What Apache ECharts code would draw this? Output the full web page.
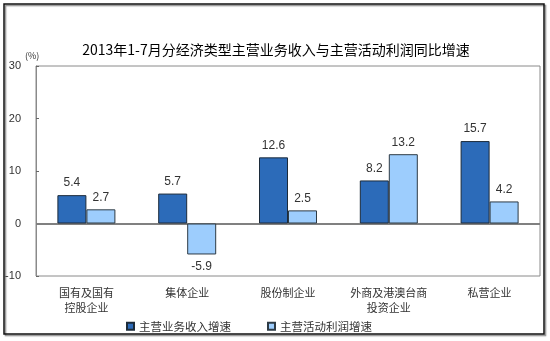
<!DOCTYPE html>
<html>
<head>
<meta charset="utf-8">
<script src="https://cdn.jsdelivr.net/npm/echarts@6/dist/echarts.min.js"></script>
<style>
  html, body { margin: 0; padding: 0; background: #fff; }
  #chart { width: 550px; height: 341px; }
</style>
</head>
<body>
<div id="chart"></div>
<script>
// Chart data
const categories = ['国有及国有\n控股企业', '集体企业', '股份制企业', '外商及港澳台商\n投资企业', '私营企业'];
const revenueGrowth = [5.4, 5.7, 12.6, 8.2, 15.7];   // 主营业务收入增速
const profitGrowth = [2.7, -5.9, 2.5, 13.2, 4.2];    // 主营活动利润增速
const seriesNames = ['主营业务收入增速', '主营活动利润增速'];
const yTicks = { min: -10, max: 30, interval: 10 };

const FONT = '"Noto Sans CJK SC", "Noto Sans", sans-serif';
const NUM_FONT = 'Arial, "Liberation Sans", sans-serif';

const chart = echarts.init(document.getElementById('chart'), null, { renderer: 'canvas' });

const baseLabel = {
  show: true,
  fontSize: 12,
  color: '#333',
  fontFamily: NUM_FONT,
  distance: 6,
  formatter: p => p.value.toFixed(1)
};

// value labels go above positive bars and below negative ones
const toItems = values => values.map(v => ({
  value: v,
  label: { position: v < 0 ? 'bottom' : 'top' }
}));

chart.setOption({
  animation: false,
  backgroundColor: '#fff',
  textStyle: { fontFamily: FONT },
  title: {
    text: '2013年1-7月分经济类型主营业务收入与主营活动利润同比增速',
    left: 271,
    textAlign: 'center',
    top: 38,
    textStyle: { fontSize: 14, fontWeight: 'normal', color: '#000', fontFamily: FONT }
  },
  graphic: [
    {
      type: 'rect',
      shape: { x: 4, y: 4, width: 540, height: 330 },
      style: { fill: 'none', stroke: '#111', lineWidth: 1.5, shadowColor: 'rgba(0,0,0,0.45)', shadowOffsetX: 1.5, shadowOffsetY: 1.5, shadowBlur: 1 },
      z: 100
    },
    {
      type: 'text',
      left: 25,
      top: 51,
      style: { text: '(%)', fontSize: 9, fill: '#333', fontFamily: FONT }
    }
  ],
  legend: {
    data: seriesNames,
    bottom: 4,
    left: 121,
    itemWidth: 7,
    itemHeight: 7,
    itemGap: 36,
    icon: 'rect',
    textStyle: { fontSize: 11.5, color: '#333', fontFamily: FONT }
  },
  grid: {
    left: 36,
    right: 10,
    top: 66,
    bottom: 65,
    containLabel: false,
    outerBoundsMode: 'none',
    show: true,
    borderColor: '#8a8a8a',
    borderWidth: 1
  },
  xAxis: {
    type: 'category',
    data: categories,
    position: 'bottom',
    axisLine: { show: false, onZero: false },
    axisTick: { show: false },
    axisLabel: {
      interval: 0,
      fontSize: 11,
      color: '#333',
      lineHeight: 15,
      margin: 9,
      fontFamily: FONT
    }
  },
  yAxis: {
    type: 'value',
    min: yTicks.min,
    max: yTicks.max,
    interval: yTicks.interval,
    axisLine: { show: true, lineStyle: { color: '#8a8a8a' } },
    axisTick: { show: true, inside: true, length: 3, lineStyle: { color: '#666' } },
    splitLine: { show: false },
    axisLabel: { fontSize: 11, color: '#333', margin: 15, fontFamily: NUM_FONT }
  },
  series: [
    {
      name: seriesNames[0],
      type: 'bar',
      data: toItems(revenueGrowth),
      barWidth: 29,
      barGap: '0%',
      itemStyle: { color: '#2c6bb9', borderColor: '#1c2b3a', borderWidth: 1 },
      label: baseLabel,
      z: 3,
      markLine: {
        silent: true,
        symbol: 'none',
        label: { show: false },
        lineStyle: { color: '#808080', width: 2, type: 'solid' },
        data: [{ yAxis: 0 }],
        z: 1
      }
    },
    {
      name: seriesNames[1],
      type: 'bar',
      data: toItems(profitGrowth),
      barWidth: 29,
      itemStyle: { color: '#9dcdfd', borderColor: '#2d3a44', borderWidth: 1 },
      label: baseLabel,
      z: 3
    }
  ]
});
</script>
</body>
</html>
